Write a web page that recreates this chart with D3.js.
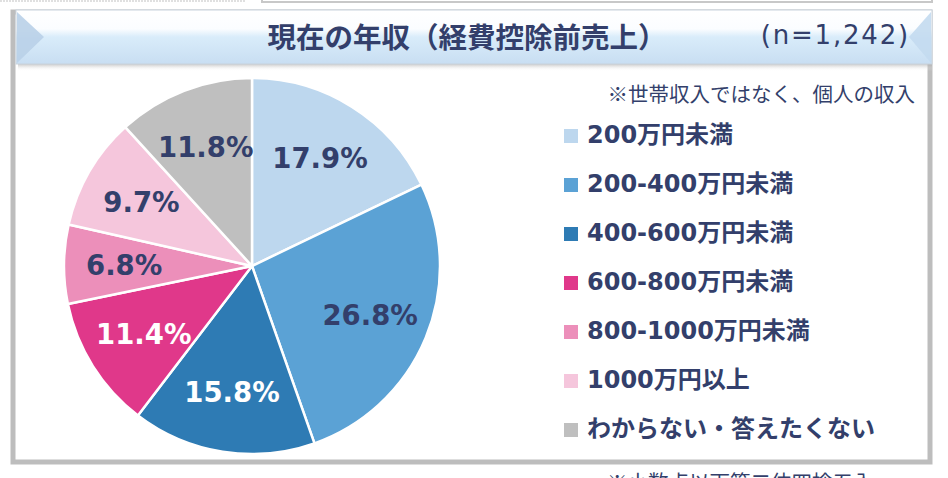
<!DOCTYPE html>
<html><head><meta charset="utf-8">
<script src="https://cdn.jsdelivr.net/npm/d3@7"></script>
<style>
html,body{margin:0;padding:0;background:#fff;}
svg{display:block;}
</style></head>
<body>
<svg id="chart" width="948" height="478"></svg>
<script>
const categories = ["200万円未満","200-400万円未満","400-600万円未満","600-800万円未満","800-1000万円未満","1000万円以上","わからない・答えたくない"];
const values = [17.9, 26.8, 15.8, 11.4, 6.8, 9.7, 11.8];
const colors = ["#bdd7ee","#5ba2d5","#2e7bb4","#e0388a","#ec8fba","#f5c6dc","#bfbfbf"];
const labelColors = ["#333f6b","#333f6b","#ffffff","#ffffff","#333f6b","#333f6b","#333f6b"];
const titleText = "現在の年収（経費控除前売上）";
const nText = "(n=1,242)";
const noteText = "※世帯収入ではなく、個人の収入";
const footText = "※小数点以下第二位四捨五入";

const svg = d3.select("#chart");
const navy = "#333f6b";
const defs = svg.append("defs");

// top cut-off elements
svg.append("line").attr("x1",0).attr("x2",245).attr("y1",1).attr("y2",1)
  .attr("stroke","#e0e0e0").attr("stroke-width",2).attr("stroke-dasharray","2,1");
svg.append("rect").attr("x",262).attr("y",-10).attr("width",670).attr("height",12)
  .attr("fill","#fff").attr("stroke","#c8c8c8").attr("stroke-width",2);

// main panel border
svg.append("rect").attr("x",13).attr("y",12).attr("width",917).attr("height",450)
  .attr("fill","#fff").attr("stroke","#bdbdbd").attr("stroke-width",5);

// title bar
const g1 = defs.append("linearGradient").attr("id","tg").attr("x1",0).attr("x2",0).attr("y1",0).attr("y2",1);
g1.append("stop").attr("offset","0%").attr("stop-color","#ffffff");
g1.append("stop").attr("offset","35%").attr("stop-color","#fbfdff");
g1.append("stop").attr("offset","50%").attr("stop-color","#d9ecfa");
g1.append("stop").attr("offset","100%").attr("stop-color","#c8def2");
const sh = defs.append("linearGradient").attr("id","sh").attr("x1",0).attr("x2",0).attr("y1",0).attr("y2",1);
sh.append("stop").attr("offset","0%").attr("stop-color","#9a9a9a").attr("stop-opacity",0.7);
sh.append("stop").attr("offset","100%").attr("stop-color","#ffffff").attr("stop-opacity",0);

svg.append("rect").attr("x",18).attr("y",63).attr("width",914).attr("height",8).attr("fill","url(#sh)");
svg.append("rect").attr("x",16).attr("y",10).attr("width",916).attr("height",54)
  .attr("fill","url(#tg)").attr("stroke","#c9d3dd").attr("stroke-width",1);
svg.append("path").attr("d","M17,12 L44,37 L17,63 Z").attr("fill","#b9d0e8").attr("opacity",0.9);
svg.append("path").attr("d","M931,12 L909,37 L931,63 Z").attr("fill","#c3daf0").attr("opacity",0.9);

svg.append("text").attr("x",467).attr("y",35).attr("text-anchor","middle")
  .attr("dominant-baseline","central")
  .style("font-family","'Noto Sans CJK JP'").style("font-weight","bold").style("font-size","28.5px")
  .attr("fill",navy).text(titleText);
svg.append("text").attr("x",910).attr("y",35).attr("text-anchor","end")
  .attr("dominant-baseline","central")
  .style("font-family","'DejaVu Sans'").style("font-size","26px").style("letter-spacing","1.8px")
  .attr("fill",navy).text(nText);

// pie
const cx = 252, cy = 266, R = 188;
const pie = d3.pie().sort(null).value(d => d);
const arcs = pie(values);
const arc = d3.arc().innerRadius(0).outerRadius(R);
const labelArc = d3.arc().innerRadius(R*0.68).outerRadius(R*0.68);
const pg = svg.append("g").attr("transform",`translate(${cx},${cy})`);
pg.selectAll("path").data(arcs).join("path")
  .attr("d",arc).attr("fill",(d,i)=>colors[i])
  .attr("stroke","#fff").attr("stroke-width",2.5).attr("stroke-linejoin","round");
pg.selectAll("text").data(arcs).join("text")
  .attr("transform",d=>`translate(${labelArc.centroid(d)})`)
  .attr("text-anchor","middle").attr("dominant-baseline","central")
  .style("font-family","'DejaVu Sans'").style("font-weight","bold").style("font-size","27.5px")
  .attr("fill",(d,i)=>labelColors[i])
  .text(d=>d.data.toFixed(1)+"%");

// legend
svg.append("text").attr("x",915).attr("y",93).attr("text-anchor","end")
  .attr("dominant-baseline","central")
  .style("font-family","'Noto Sans CJK JP'").style("font-size","20.5px")
  .attr("fill",navy).text(noteText);

const ly = d3.scalePoint().domain(categories).range([143, 437]);
const lg = svg.append("g");
const items = lg.selectAll("g").data(categories).join("g")
  .attr("transform",d=>`translate(0,${ly(d)})`);
items.append("rect").attr("x",564).attr("y",-14).attr("width",14).attr("height",14)
  .attr("fill",(d,i)=>colors[i]);
items.append("text").attr("x",587).attr("y",0)
  .style("font-family","'DejaVu Sans','Noto Sans CJK JP'").style("font-weight","bold").style("font-size","24px")
  .attr("fill",navy).text(d=>d);

// footnote (cut off at bottom, as in the reference)
svg.append("text").attr("x",607).attr("y",490)
  .style("font-family","'Noto Sans CJK JP'").style("font-size","20.5px")
  .attr("fill",navy).text(footText);
</script>
</body></html>
